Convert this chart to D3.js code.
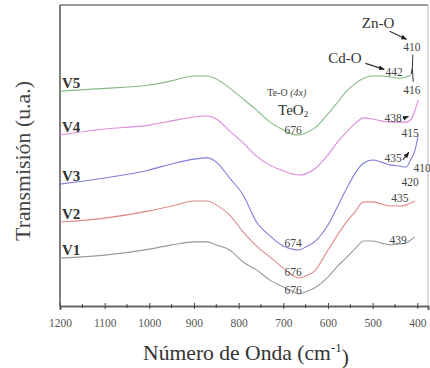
<!DOCTYPE html>
<html>
<head>
<meta charset="utf-8">
<script src="https://cdn.jsdelivr.net/npm/d3@7"></script>
<style>
  html, body { margin: 0; padding: 0; background: #fff; }
  svg { display: block; font-family: "Liberation Serif", "DejaVu Serif", serif; }
</style>
</head>
<body>
<svg id="chart"></svg>
<script>
// Wavenumbers (cm-1)
const waveNumbers = [1200, 1100, 1000, 950, 900, 870, 850, 820, 790, 760, 730, 700, 680, 665, 650, 630, 600, 580, 560, 540, 520, 500, 480, 460, 440, 425, 415, 405, 398];

// Transmission (u.a.), offset curves
const v5 = [71.4, 72.3, 73.4, 74.8, 76.4, 76.4, 75.4, 72.4, 68.8, 65.1, 61.1, 58.5, 57.1, 56.8, 57.5, 59.1, 63.8, 67.4, 71.1, 73.8, 75.7, 76.4, 76.4, 76.1, 75.7, 76.1, 76.7, null, null];
const v4 = [56.8, 58.8, 60.1, 61.5, 62.8, 63.1, 62.1, 58.1, 54.2, 49.8, 46.8, 44.9, 43.9, 43.5, 43.9, 45.5, 50.2, 54.2, 57.5, 60.5, 62.5, 62.1, 61.5, 61.1, 61.1, 61.1, 61.8, 65.1, 68.4];
const v3 = [40.5, 42.5, 45.2, 47.2, 48.8, 49.2, 47.8, 42.5, 36.9, 27.9, 23.3, 19.9, 18.9, 18.6, 19.6, 21.3, 26.9, 32.6, 38.5, 43.9, 47.5, 48.5, 47.8, 46.8, 46.5, 46.2, 48.5, 51.8, 56.8];
const v2 = [27.9, 29.2, 31.6, 33.2, 34.9, 34.9, 33.6, 30.2, 24.6, 19.9, 16.3, 12.6, 10.3, 9.3, 10.0, 11.6, 18.6, 23.3, 27.6, 31.2, 34.6, 34.6, 33.9, 33.2, 33.2, 33.6, 34.2, 34.9, null];
const v1 = [15.9, 16.9, 18.9, 20.3, 21.3, 21.3, 20.3, 18.6, 14.6, 12.0, 8.6, 6.3, 5.0, 4.0, 4.7, 6.0, 9.6, 13.0, 15.9, 18.9, 21.6, 21.6, 20.9, 20.3, 20.6, 20.9, 21.9, 22.9, null];

const seriesNames = ['V5', 'V4', 'V3', 'V2', 'V1'];
const seriesValues = [v5, v4, v3, v2, v1];
const seriesColors = ['#86bc86', '#dc8ad8', '#7f7fdc', '#e08888', '#9a9a9a'];

const xTicks = [1200, 1100, 1000, 900, 800, 700, 600, 500, 400];
const xMinorTicks = [1150, 1050, 950, 850, 750, 650, 550, 450];

// Peak annotations: [text, wavenumber, transmission]
const peakLabels = [
  ['676', 678, 58.5],
  ['438', 454, 62.5],
  ['415', 416, 57.5],
  ['435', 454, 49.2],
  ['410', 389, 45.8],
  ['420', 416, 41.2],
  ['674', 678, 20.9],
  ['676', 678, 11.3],
  ['676', 678, 5.3],
  ['435', 439, 35.9],
  ['439', 443, 21.9],
  ['442', 452, 77.7],
  ['416', 412, 71.8],
  ['410', 412, 86.0]
];

const width = 430, height = 368;
const margin = { top: 5, right: 2, bottom: 62, left: 60 };

const svg = d3.select('#chart')
  .attr('width', width)
  .attr('height', height);

const x = d3.scaleLinear()
  .domain([1200, 376])
  .range([margin.left, width - margin.right]);

const y = d3.scaleLinear()
  .domain([0, 100])
  .range([height - margin.bottom, margin.top]);

const x0 = margin.left, x1 = width - margin.right;
const y0 = margin.top, y1 = height - margin.bottom;

// Frame
svg.append('line').attr('x1', x0).attr('x2', x1).attr('y1', y0).attr('y2', y0)
  .attr('stroke', '#999').attr('stroke-width', 2);
svg.append('line').attr('x1', x1).attr('x2', x1).attr('y1', y0).attr('y2', y1)
  .attr('stroke', '#bbb').attr('stroke-width', 1);
svg.append('line').attr('x1', x0).attr('x2', x0).attr('y1', y0).attr('y2', y1)
  .attr('stroke', '#555').attr('stroke-width', 1.5);

// X axis
const xAxis = svg.append('g')
  .attr('transform', `translate(0,${y1})`)
  .call(d3.axisBottom(x).tickValues(xTicks).tickSize(4).tickPadding(9).tickFormat(d3.format('d')));
xAxis.select('.domain').attr('stroke', '#666').attr('stroke-width', 2);
xAxis.selectAll('.tick line').attr('stroke', '#444').attr('y1', -3).attr('y2', 3);
xAxis.selectAll('.tick text')
  .attr('font-family', '"Liberation Serif", serif')
  .attr('font-size', 11.5)
  .attr('fill', '#555');

svg.append('g')
  .selectAll('line')
  .data(xMinorTicks)
  .enter().append('line')
  .attr('x1', d => x(d)).attr('x2', d => x(d))
  .attr('y1', y1 - 2).attr('y2', y1 + 2)
  .attr('stroke', '#444');

// Curves
const line = d3.line()
  .defined(d => d[1] !== null)
  .x(d => x(d[0]))
  .y(d => y(d[1]))
  .curve(d3.curveMonotoneX);

seriesValues.forEach((vals, i) => {
  svg.append('path')
    .datum(waveNumbers.map((w, j) => [w, vals[j]]))
    .attr('fill', 'none')
    .attr('stroke', seriesColors[i])
    .attr('stroke-width', 1.1)
    .attr('d', line);

  svg.append('text')
    .attr('x', x0 + 2)
    .attr('y', y(vals[0]) - 3)
    .attr('font-size', 15)
    .attr('font-weight', 'bold')
    .attr('fill', '#333')
    .text(seriesNames[i]);
});

// Peak labels
svg.append('g')
  .selectAll('text')
  .data(peakLabels)
  .enter().append('text')
  .attr('x', d => x(d[1]))
  .attr('y', d => y(d[2]))
  .attr('text-anchor', 'middle')
  .attr('dominant-baseline', 'central')
  .attr('font-size', 11.5)
  .attr('fill', '#444')
  .text(d => d[0]);

// Band assignments
svg.append('text')
  .attr('x', x(488)).attr('y', y(94))
  .attr('text-anchor', 'middle').attr('dominant-baseline', 'central')
  .attr('font-size', 15).attr('fill', '#333')
  .text('Zn-O');

svg.append('text')
  .attr('x', x(562)).attr('y', y(82.4))
  .attr('text-anchor', 'middle').attr('dominant-baseline', 'central')
  .attr('font-size', 15).attr('fill', '#333')
  .text('Cd-O');

const teo = svg.append('text')
  .attr('x', x(692)).attr('y', y(71.1))
  .attr('text-anchor', 'middle').attr('dominant-baseline', 'central')
  .attr('font-size', 10).attr('fill', '#444');
teo.append('tspan').text('Te-O ');
teo.append('tspan').attr('font-style', 'italic').text('(4x)');

const teo2 = svg.append('text')
  .attr('x', x(678)).attr('y', y(65.1))
  .attr('text-anchor', 'middle').attr('dominant-baseline', 'central')
  .attr('font-size', 15).attr('fill', '#333');
teo2.append('tspan').text('TeO');
teo2.append('tspan').attr('font-size', 9).attr('dy', 4).text('2');

// Arrows
svg.append('defs').append('marker')
  .attr('id', 'arrow')
  .attr('viewBox', '0 0 10 10')
  .attr('refX', 9).attr('refY', 5)
  .attr('markerWidth', 5).attr('markerHeight', 5)
  .attr('orient', 'auto')
  .append('path').attr('d', 'M0,1L10,5L0,9Z').attr('fill', '#222');

const arrows = [
  [[462, 91.3], [424, 88.6]],
  [[516, 80.6], [474, 78.6]],
  [[432, 62.3], [420, 63.0]],
  [[432, 48.6], [419, 51.0]]
];
arrows.forEach(a => {
  svg.append('line')
    .attr('x1', x(a[0][0])).attr('y1', y(a[0][1]))
    .attr('x2', x(a[1][0])).attr('y2', y(a[1][1]))
    .attr('stroke', '#333').attr('stroke-width', 1.2)
    .attr('marker-end', 'url(#arrow)');
});

// Bracket between 442 / 416 / 410
svg.append('path')
  .attr('d', `M${x(410)},${y(83.5)} L${x(411)},${y(79)} L${x(414)},${y(77)} M${x(411)},${y(79)} L${x(409)},${y(74.5)}`)
  .attr('fill', 'none').attr('stroke', '#333').attr('stroke-width', 1);

// Axis titles, sized to the span they take in the picture
function fitText(sel, targetLength) {
  const len = sel.node().getComputedTextLength();
  const fs = parseFloat(sel.attr('font-size'));
  sel.attr('font-size', fs * targetLength / len);
}

const xTitle = svg.append('text')
  .attr('x', 246).attr('y', 353)
  .attr('text-anchor', 'middle').attr('dominant-baseline', 'central')
  .attr('font-size', 20).attr('fill', '#333');
xTitle.append('tspan').text('Número de Onda (cm');
xTitle.append('tspan').attr('font-size', '0.6em').attr('dy', '-0.45em').text('-1');
xTitle.append('tspan').attr('dy', '0.45em').text(')');
fitText(xTitle, 206);

const yTitle = svg.append('text')
  .attr('transform', 'translate(23,161) rotate(-90)')
  .attr('text-anchor', 'middle').attr('dominant-baseline', 'central')
  .attr('font-size', 20).attr('fill', '#444')
  .text('Transmisión (u.a.)');
fitText(yTitle, 160);
</script>
</body>
</html>
